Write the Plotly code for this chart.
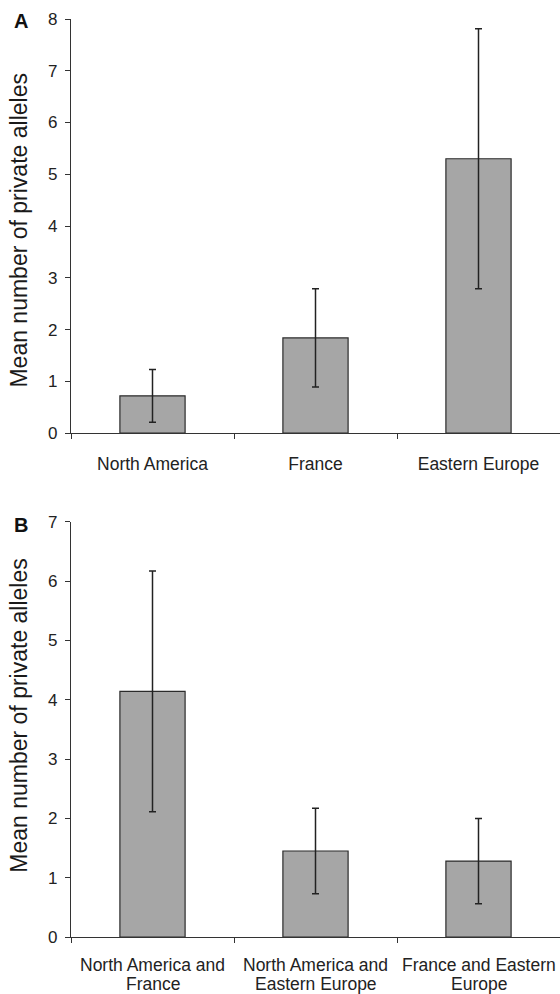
import plotly.graph_objects as go
from plotly.subplots import make_subplots

# Panel A data
cats_a = ["North America", "France", "Eastern Europe"]
vals_a = [0.72, 1.84, 5.30]
err_a = [0.51, 0.95, 2.51]

# Panel B data (line break marks where the label wraps)
cats_b = ["North America and<br>France", "North America and<br>Eastern Europe", "France and Eastern<br>Europe"]
vals_b = [4.14, 1.45, 1.28]
err_b = [2.03, 0.72, 0.72]

y_title = "Mean number of private alleles"

fig = make_subplots(rows=2, cols=1)

bar_style = dict(
    marker=dict(color="#a6a6a6", line=dict(color="#2b2b2b", width=1.2)),
    width=0.4,
    showlegend=False,
)

fig.add_trace(go.Bar(x=cats_a, y=vals_a,
                     error_y=dict(type="data", array=err_a, visible=True,
                                  color="#222222", thickness=1.5, width=3.5),
                     **bar_style), row=1, col=1)
fig.add_trace(go.Bar(x=cats_b, y=vals_b,
                     error_y=dict(type="data", array=err_b, visible=True,
                                  color="#222222", thickness=1.5, width=3.5),
                     **bar_style), row=2, col=1)

H = 994
W = 560
L = 71
top_px, bot_px = 19, 936.7
plot_h = bot_px - top_px
plot_w = W - L
a_bottom = (bot_px - 433) / plot_h
b_top = (bot_px - 521.7) / plot_h

axis_common = dict(showline=True, linecolor="#333333", linewidth=1.2,
                   showgrid=False, zeroline=False,
                   ticks="outside", tickcolor="#333333", ticklen=5, tickwidth=1.2)

xlab_size = 17.5

fig.update_layout(
    width=W, height=H,
    margin=dict(l=L, r=0, t=top_px, b=H - bot_px),
    plot_bgcolor="white", paper_bgcolor="white",
    font=dict(family="Liberation Sans, Arial, sans-serif", color="#222222"),
    xaxis=dict(domain=[0, 1], range=[-0.5, 2.5], tickson="boundaries",
               tickfont=dict(size=xlab_size), ticklabelstandoff=15, **axis_common),
    yaxis=dict(domain=[a_bottom, 1], range=[0, 8], dtick=1,
               tickfont=dict(size=17), ticklabelstandoff=4, **axis_common),
    xaxis2=dict(domain=[0, 1], range=[-0.5, 2.5], tickson="boundaries",
                showticklabels=False, **axis_common),
    yaxis2=dict(domain=[0, b_top], range=[0, 7], dtick=1,
                tickfont=dict(size=17), ticklabelstandoff=4, **axis_common),
)

def py_to_paper(px_y):
    return (bot_px - px_y) / plot_h

def px_to_paper(px_x):
    return (px_x - L) / plot_w

# Panel B category labels, drawn line by line at their category positions
for cat in cats_b:
    for j, line in enumerate(cat.split("<br>")):
        fig.add_annotation(text=line, x=cat, xref="x2", y=py_to_paper(965 + 18.5 * j),
                           yref="paper", xanchor="center", yanchor="middle",
                           showarrow=False, font=dict(size=xlab_size, color="#222222"))

# y-axis titles
for py in [230.5, 715.5]:
    fig.add_annotation(text=y_title, x=px_to_paper(19), y=py_to_paper(py),
                       xref="paper", yref="paper", textangle=-90,
                       xanchor="center", yanchor="middle", showarrow=False,
                       font=dict(size=23, color="#1a1a1a"))

for label, py in [("A", 21), ("B", 525)]:
    fig.add_annotation(text=f"<b>{label}</b>", x=px_to_paper(21), y=py_to_paper(py),
                       xref="paper", yref="paper",
                       xanchor="center", yanchor="middle", showarrow=False,
                       font=dict(size=20, color="#111111"))

fig.write_html("out.html", config={"displayModeBar": False},
               post_script="document.body.style.margin='0';")
